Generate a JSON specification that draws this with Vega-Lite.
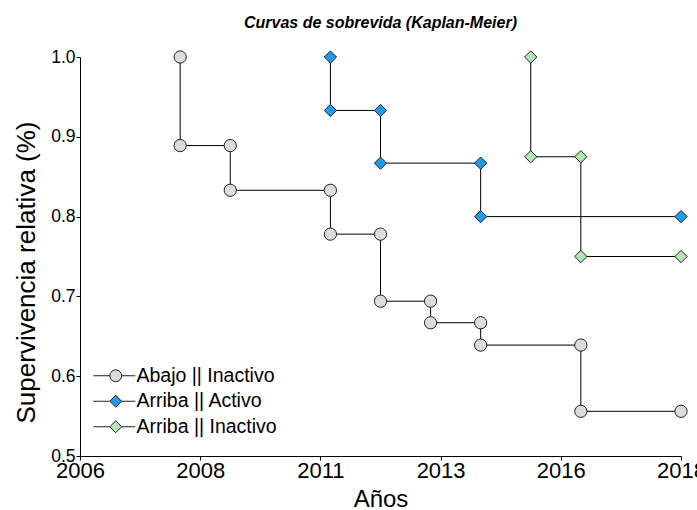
{
  "$schema": "https://vega.github.io/schema/vega-lite/v6.json",
  "autosize": {"type": "none"},
  "width": 601,
  "height": 399,
  "padding": {"left": 80, "top": 57, "right": 16, "bottom": 54},
  "background": "white",
  "title": {
    "text": "Curvas de sobrevida (Kaplan-Meier)",
    "font": "Liberation Sans",
    "fontSize": 16,
    "fontWeight": "bold",
    "fontStyle": "italic",
    "color": "black",
    "anchor": "middle",
    "offset": 17
  },
  "config": {
    "view": {"stroke": null},
    "font": "Liberation Sans"
  },
  "data": {
    "values": [
      {"grupo": "Abajo || Inactivo", "anio": 2008.0, "surv": 1.0, "i": 1},
      {"grupo": "Abajo || Inactivo", "anio": 2008.0, "surv": 0.889, "i": 2},
      {"grupo": "Abajo || Inactivo", "anio": 2009.0, "surv": 0.889, "i": 3},
      {"grupo": "Abajo || Inactivo", "anio": 2009.0, "surv": 0.833, "i": 4},
      {"grupo": "Abajo || Inactivo", "anio": 2011.0, "surv": 0.833, "i": 5},
      {"grupo": "Abajo || Inactivo", "anio": 2011.0, "surv": 0.778, "i": 6},
      {"grupo": "Abajo || Inactivo", "anio": 2012.0, "surv": 0.778, "i": 7},
      {"grupo": "Abajo || Inactivo", "anio": 2012.0, "surv": 0.694, "i": 8},
      {"grupo": "Abajo || Inactivo", "anio": 2013.0, "surv": 0.694, "i": 9},
      {"grupo": "Abajo || Inactivo", "anio": 2013.0, "surv": 0.667, "i": 10},
      {"grupo": "Abajo || Inactivo", "anio": 2014.0, "surv": 0.667, "i": 11},
      {"grupo": "Abajo || Inactivo", "anio": 2014.0, "surv": 0.639, "i": 12},
      {"grupo": "Abajo || Inactivo", "anio": 2016.0, "surv": 0.639, "i": 13},
      {"grupo": "Abajo || Inactivo", "anio": 2016.0, "surv": 0.556, "i": 14},
      {"grupo": "Abajo || Inactivo", "anio": 2018.0, "surv": 0.556, "i": 15},
      {"grupo": "Arriba || Activo", "anio": 2011.0, "surv": 1.0, "i": 1},
      {"grupo": "Arriba || Activo", "anio": 2011.0, "surv": 0.933, "i": 2},
      {"grupo": "Arriba || Activo", "anio": 2012.0, "surv": 0.933, "i": 3},
      {"grupo": "Arriba || Activo", "anio": 2012.0, "surv": 0.867, "i": 4},
      {"grupo": "Arriba || Activo", "anio": 2014.0, "surv": 0.867, "i": 5},
      {"grupo": "Arriba || Activo", "anio": 2014.0, "surv": 0.8, "i": 6},
      {"grupo": "Arriba || Activo", "anio": 2018.0, "surv": 0.8, "i": 7},
      {"grupo": "Arriba || Inactivo", "anio": 2015.0, "surv": 1.0, "i": 1},
      {"grupo": "Arriba || Inactivo", "anio": 2015.0, "surv": 0.875, "i": 2},
      {"grupo": "Arriba || Inactivo", "anio": 2016.0, "surv": 0.875, "i": 3},
      {"grupo": "Arriba || Inactivo", "anio": 2016.0, "surv": 0.75, "i": 4},
      {"grupo": "Arriba || Inactivo", "anio": 2018.0, "surv": 0.75, "i": 5}
    ]
  },
  "encoding": {
    "x": {
      "field": "anio",
      "type": "quantitative",
      "scale": {"domain": [2006, 2018], "nice": false, "zero": false},
      "axis": {
        "title": "Años",
        "values": [2006, 2008.4, 2010.8, 2013.2, 2015.6, 2018],
        "labelExpr": "format(round(datum.value), 'd')",
        "grid": false,
        "domainColor": "black",
        "tickColor": "black",
        "tickSize": 4,
        "labelColor": "black",
        "labelFontSize": 22,
        "labelPadding": 0,
        "labelFlush": false,
        "labelOverlap": false,
        "titleFontSize": 24,
        "titleFontWeight": "normal",
        "titleColor": "black",
        "titlePadding": 6
      }
    },
    "y": {
      "field": "surv",
      "type": "quantitative",
      "scale": {"domain": [0.5, 1.0], "nice": false, "zero": false},
      "axis": {
        "title": "Supervivencia relativa (%)",
        "values": [0.5, 0.6, 0.7, 0.8, 0.9, 1.0],
        "format": ".1f",
        "grid": false,
        "domainColor": "black",
        "tickColor": "black",
        "tickSize": 4,
        "labelColor": "black",
        "labelFontSize": 17.5,
        "labelPadding": 1,
        "labelFlush": false,
        "labelOverlap": false,
        "titleFontSize": 26,
        "titleFontWeight": "normal",
        "titleColor": "black",
        "titlePadding": 11,
        "titleY": 215
      }
    }
  },
  "layer": [
    {
      "mark": {"type": "line", "color": "black", "strokeWidth": 1},
      "encoding": {
        "detail": {"field": "grupo"},
        "order": {"field": "i", "type": "quantitative"}
      }
    },
    {
      "mark": {
        "type": "point",
        "filled": true,
        "opacity": 1,
        "stroke": "#222222",
        "strokeWidth": 1,
        "size": 150,
        "shape": {"expr": "datum.grupo === 'Abajo || Inactivo' ? 'circle' : 'diamond'"}
      },
      "encoding": {
        "color": {
          "field": "grupo",
          "type": "nominal",
          "scale": {
            "domain": ["Abajo || Inactivo", "Arriba || Activo", "Arriba || Inactivo"],
            "range": ["#dcdcdc", "#1e9bea", "#b4e6b4"]
          },
          "legend": {
            "title": null,
            "orient": "none",
            "legendX": 26,
            "legendY": 309,
            "labelFontSize": 19.5,
            "labelColor": "black",
            "labelOffset": 11,
            "rowPadding": 4.5,
            "symbolSize": 140,
            "symbolStrokeColor": "#222222",
            "symbolStrokeWidth": 1,
            "symbolOpacity": 1,
            "symbolType": {"expr": "datum.value === 'Abajo || Inactivo' ? 'M-3.8,0H-1M1,0H3.3M-1,0A1,1 0 1,1 1,0A1,1 0 1,1 -1,0Z' : 'M-3.8,0H-1M1,0H3.3M-1,0L0,-1L1,0L0,1Z'"}
          }
        }
      }
    }
  ]
}
